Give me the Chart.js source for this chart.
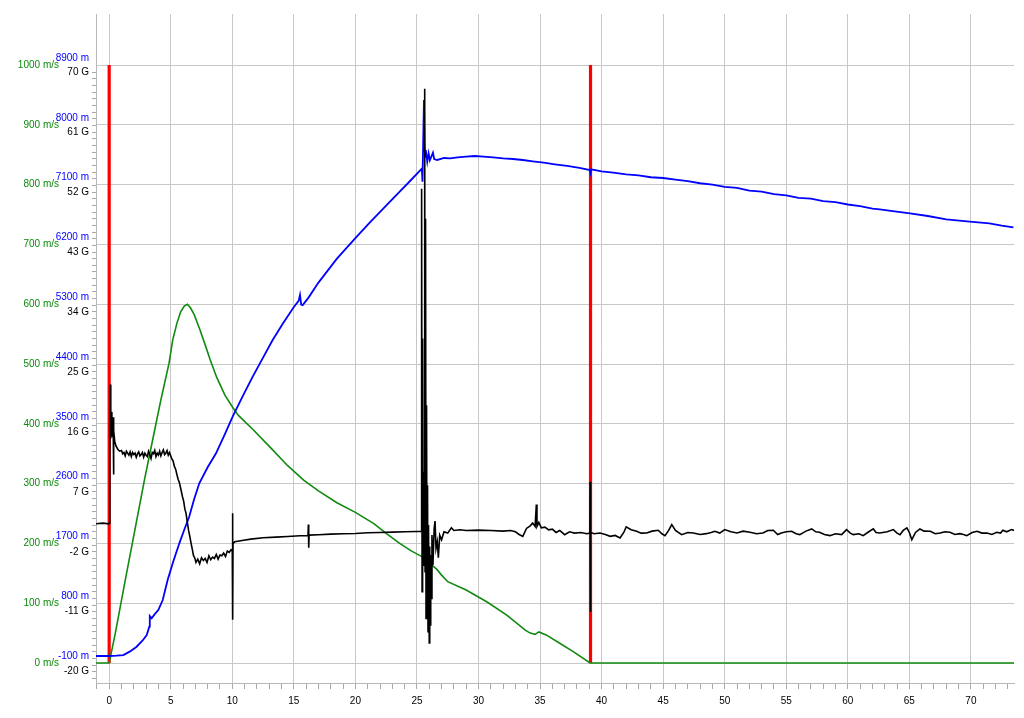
<!DOCTYPE html>
<html><head><meta charset="utf-8">
<script src="https://cdn.jsdelivr.net/npm/chart.js@4.4.0/dist/chart.umd.min.js"></script>
<style>html,body{margin:0;padding:0;background:#fff;overflow:hidden}#wrap{width:1024px;height:718px;position:relative}</style>
</head><body><div id="wrap"><canvas id="c" width="1024" height="718"></canvas></div>
<script>
// ---- tick labels ----
const speedTicks = [0,100,200,300,400,500,600,700,800,900,1000];
const altTicks = [-100,800,1700,2600,3500,4400,5300,6200,7100,8000,8900];
const gTicks = [-20,-11,-2,7,16,25,34,43,52,61,70];
const timeLabelTicks = [0,5,10,15,20,25,30,35,40,45,50,55,60,65,70];

// ---- velocity (m/s) ----
const velTime = [-1.07,0,0.5,1.31,2.0,2.91,3.58,4.2,4.86,5.16,5.5,5.8,6.1,6.35,6.6,6.9,7.38,7.8,8.19,8.73,9.4,10.08,10.5,11.7,13.3,14.5,15.8,17,18.5,20,21.5,22.5,23.6,24.5,25.4,25.5,25.7,25.8,25.9,26.2,26.6,27.0,27.5,29.0,30.7,32.3,33.8,34.2,34.6,34.9,35.5,36.6,37.7,39.06,73.5];
const velValues = [0,0,50,139,213,311,378,440,501,540,568,587,597,600,594,583,557,532,508,478,448,426,414,390,356,330,306,288,268,252,233,217,200,188,178,180,207,200,186,164,157,147,136,122,102,80,55,50,48,52,47,33,19,0,0];

// ---- altitude (m) ----
const altTime = [-1.07,0,0.6,1.15,1.7,2.23,2.7,3.05,3.26,3.3,3.45,3.7,3.99,4.35,4.75,5.2,5.7,6.1,6.5,6.9,7.32,8.0,8.68,9.4,10.03,10.85,11.66,12.5,13.28,14.1,14.96,15.4,15.5,15.6,15.72,16.18,17.0,18.5,20,21.2,22.4,23.6,24.5,25.4,25.45,25.57,25.62,25.66,25.72,25.84,25.95,26.05,26.3,26.4,26.65,27.2,27.7,28.3,29.0,29.7,30.4,31.2,32.0,32.8,33.6,34.4,35.3,36.2,37.2,38.2,39.05,39.1,39.15,40.0,40.95,42,43,44,45,46,47,48,49,50,51,52,53,54,55,56,57,58,59,60,61,62,62.6,63.5,65.05,66.5,68,69.9,71.5,72.5,73.45];
const altValues = [-100,-100,-95,-85,-30,40,130,216,341,502,467,530,592,743,1044,1320,1596,1800,1996,2260,2499,2740,2951,3240,3502,3810,4104,4390,4656,4900,5140,5250,5333,5190,5180,5290,5520,5880,6190,6430,6660,6890,7060,7235,7038,8268,7600,7414,7514,7339,7464,7360,7475,7380,7365,7395,7390,7405,7415,7425,7415,7405,7390,7380,7365,7345,7324,7300,7275,7245,7214,7170,7225,7195,7174,7150,7135,7105,7094,7070,7048,7015,6995,6960,6945,6905,6890,6850,6832,6795,6785,6745,6730,6695,6672,6632,6622,6598,6562,6522,6472,6436,6412,6378,6352];

// ---- acceleration (G), one line per flight phase ----
const gTime = [
  -1.07,-0.5,-0.05,0.0,0.05,0.09,0.13,0.18,0.22,0.28,0.32,0.35,0.38,0.45,0.55,0.7,0.85,
  1.0,1.1,1.2,1.3,1.4,1.5,1.6,1.7,1.8,1.9,2.0,2.1,2.2,2.3,2.4,2.5,2.6,2.7,2.8,2.9,3.0,3.1,3.2,3.3,3.4,3.5,3.6,3.7,3.8,3.9,4.0,4.1,4.2,4.3,4.4,4.5,4.6,4.7,4.8,4.9,
  5.0,5.1,5.2,5.29,5.4,5.5,5.6,5.7,5.83,5.95,6.05,6.15,6.24,6.35,6.45,6.55,6.65,6.75,6.85,6.95,
  7.05,7.2,7.35,7.5,7.65,7.8,7.95,8.1,8.25,8.4,8.55,8.7,8.85,9.0,9.15,9.3,9.45,9.6,9.75,9.9,10.0,
  10.02,10.04,10.06,10.2,10.8,11.5,12.5,13.55,14.5,15.5,16.15,16.18,16.21,16.24,17,18,19,20,21,22,23,24,25,25.35,
  25.38,25.42,25.46,25.5,25.55,25.6,25.63,25.66,25.7,25.74,25.78,25.82,25.86,25.9,25.94,26.0,26.04,26.08,26.12,26.16,26.22,26.3,26.4,26.47,26.55,26.65,26.74,26.85,27.0,27.2,27.5,27.8,28.0,28.5,29,30,31,32,32.6,33.0,33.3,33.6,33.9,34.2,34.4,34.6,34.7,34.75,34.9,35.1,35.4,35.7,36.0,36.3,36.6,37.0,37.4,37.8,38.3,38.8,39.05,39.07,39.09,39.11,
  39.4,39.87,40.3,40.7,41.1,41.5,41.8,42.0,42.4,42.85,43.2,43.66,44.1,44.6,44.9,45.15,45.45,45.7,46.0,46.5,47.0,47.45,48.0,48.5,48.9,49.2,49.6,50.0,50.5,51.0,51.5,52.05,52.6,53.1,53.5,53.95,54.3,54.6,55.0,55.45,55.8,56.1,56.6,57.07,57.4,57.7,58.1,58.55,59.0,59.5,59.9,60.2,60.45,60.9,61.25,61.7,62.07,62.3,62.6,63.2,63.7,64.0,64.24,64.5,64.8,65.0,65.2,65.5,65.86,66.2,66.7,67.1,67.5,67.9,68.3,68.7,69.1,69.4,69.66,70.1,70.5,70.9,71.3,71.7,72.1,72.4,72.6,72.9,73.3,73.5
];
const gValues = [
  2.2,2.3,2.2,2.3,12,23.1,15,19,16.5,15.2,18.2,9.6,16.2,14.6,13.9,13.4,13.1,
  13.2,12.7,12.9,12.4,13.1,12.8,12.5,13.0,12.3,12.9,12.6,12.8,12.2,12.7,13.0,12.4,12.6,12.9,12.2,12.8,12.5,12.3,13.1,12.6,12.0,12.9,12.7,13.2,12.3,12.8,12.5,13.1,12.4,12.9,13.3,12.6,12.8,13.2,12.5,12.9,
  12.4,11.9,11.6,10.85,10.4,9.6,8.9,8.4,7.35,6.3,5.6,4.4,3.8,2.4,1.2,0.3,-0.7,-1.6,-2.6,-2.9,
  -3.6,-3.1,-3.8,-2.9,-3.3,-3.0,-3.6,-2.6,-3.2,-2.8,-3.0,-2.4,-3.1,-2.5,-2.6,-2.2,-2.7,-1.9,-2.1,-1.7,-1.9,
  3.8,-12.2,-0.8,-0.5,-0.3,-0.1,0.1,0.2,0.3,0.4,0.45,2.1,-1.4,0.5,0.55,0.65,0.7,0.75,0.85,0.9,0.95,1.0,1.05,1.07,
  52.5,-8,30,-4,10,3,67.5,-5,48,-12,20,-9,8,-14,2,-15.7,-1.2,-13,-2.5,-9,0.5,-4,1.5,2.6,-1.5,-0.5,-2.9,0.5,-0.2,1.0,0.8,1.6,1.2,1.3,1.2,1.25,1.2,1.1,1.2,1.0,0.6,0.3,1.5,1.9,2.3,1.8,5.1,1.8,2.4,1.6,1.7,1.3,1.4,0.9,1.2,0.57,1.0,0.8,0.9,0.7,0.8,8.5,-11,0.9,
  0.7,0.82,0.6,0.32,0.45,0.07,0.9,1.73,1.3,1.07,0.8,0.82,1.1,1.23,0.7,0.42,1.2,2.08,1.2,0.57,0.9,0.82,0.6,0.72,0.9,1.07,0.8,1.33,1.0,0.82,1.1,0.92,0.7,0.82,1.2,1.23,0.6,0.82,1.0,1.07,0.7,0.57,1.1,1.43,1.0,0.92,0.6,0.42,0.7,0.57,1.33,0.8,0.57,0.7,0.42,1.0,1.43,0.9,0.82,1.0,1.33,0.8,0.57,1.2,1.58,0.9,-0.18,0.9,1.43,1.1,1.07,0.7,0.82,1.0,0.92,0.6,0.72,0.6,0.42,0.9,1.07,0.8,0.82,0.6,0.92,0.8,1.23,1.0,1.33,1.2
];

// ---- event markers (s) ----
const markerTimes = [0, 39.1];
const markerSpan = [0, 1000];

const zip = (xs, ys) => xs.map((x, i) => ({x: x, y: ys[i]}));

Chart.defaults.font.family = '"Liberation Sans", Arial, sans-serif';
Chart.defaults.font.size = 10;

const markerSets = markerTimes.map(t => ({
  data: markerSpan.map(v => ({x: t, y: v})),
  yAxisID: 'ySpeed', borderColor: '#ff0000', borderWidth: 3.2, pointRadius: 0, borderCapStyle: 'butt'
}));

const xMinor = []; for (let i = -1; i <= 73; i++) xMinor.push(i);
const gMinor = []; for (let i = -21; i <= 70; i++) gMinor.push(i);

// fixed left-side columns for the three stacked value axes (label clip areas)
const axisColumns = {ySpeed: [0, 59], yG: [59, 96], yAlt: [40, 96]};
const columnPlugin = {
  id: 'axisColumns',
  afterLayout(chart) {
    for (const k in axisColumns) {
      const s = chart.scales[k];
      if (!s) continue;
      s.left = axisColumns[k][0];
      s.right = axisColumns[k][1];
      s.width = s.right - s.left;
    }
  }
};

new Chart(document.getElementById('c'), {
  type: 'line',
  data: {
    datasets: [
      {data: zip(gTime, gValues), yAxisID: 'yG', borderColor: '#000000', borderWidth: 1.6, pointRadius: 0, tension: 0},
      {data: zip(altTime, altValues), yAxisID: 'yAlt', borderColor: '#0000ff', borderWidth: 1.8, pointRadius: 0, tension: 0},
      {data: zip(velTime, velValues), yAxisID: 'ySpeed', borderColor: '#108a10', borderWidth: 1.6, pointRadius: 0, tension: 0},
      ...markerSets
    ]
  },
  plugins: [columnPlugin],
  options: {
    responsive: false, animation: false,
    layout: {padding: {left: 0, right: 10, top: 14, bottom: 0}},
    plugins: {legend: {display: false}, tooltip: {enabled: false}},
    scales: {
      x: {
        type: 'linear', position: 'bottom', min: -1.07, max: 73.5,
        afterBuildTicks: s => { s.ticks = xMinor.map(v => ({value: v})); },
        afterFit: s => { s.height = 35; },
        grid: {
          color: c => (c.tick && timeLabelTicks.includes(c.tick.value)) ? '#c8c8c8' : 'rgba(0,0,0,0)',
          tickColor: '#a8a8a8', tickLength: 6, lineWidth: 1
        },
        border: {color: '#b8b8b8'},
        ticks: {autoSkip: false, maxRotation: 0, padding: 6, color: '#000',
          callback: v => timeLabelTicks.includes(v) ? String(v) : ''}
      },
      ySpeed: {
        type: 'linear', position: 'left', weight: 3, min: -33.4, max: 1085.3,
        afterBuildTicks: s => { s.ticks = speedTicks.map(v => ({value: v})); },
        afterFit: s => { s.width = 59; },
        grid: {color: '#c8c8c8', drawTicks: false},
        border: {display: false},
        ticks: {autoSkip: false, padding: 0, color: '#0a8a0a', callback: v => v + ' m/s'}
      },
      yG: {
        type: 'linear', position: 'left', weight: 2, min: -21.7, max: 78.73,
        afterBuildTicks: s => { s.ticks = gMinor.map(v => ({value: v})); },
        afterFit: s => { s.width = 36; },
        grid: {drawOnChartArea: false, drawTicks: true, tickLength: 4, tickColor: '#a8a8a8'},
        border: {display: true, color: '#b8b8b8'},
        ticks: {autoSkip: false, padding: 3, color: '#000', callback: v => gTicks.includes(v) ? v + ' G' : ''}
      },
      yAlt: {
        type: 'linear', position: 'left', weight: 1, min: -506, max: 9562,
        afterBuildTicks: s => { s.ticks = altTicks.map(v => ({value: v})); },
        afterFit: s => { s.width = 1; },
        grid: {drawOnChartArea: false, drawTicks: true, tickLength: 4, tickColor: 'rgba(0,0,0,0)'},
        border: {display: false},
        ticks: {autoSkip: false, padding: 3, color: '#0000ff', callback: v => v + ' m'}
      }
    }
  }
});
</script></body></html>
